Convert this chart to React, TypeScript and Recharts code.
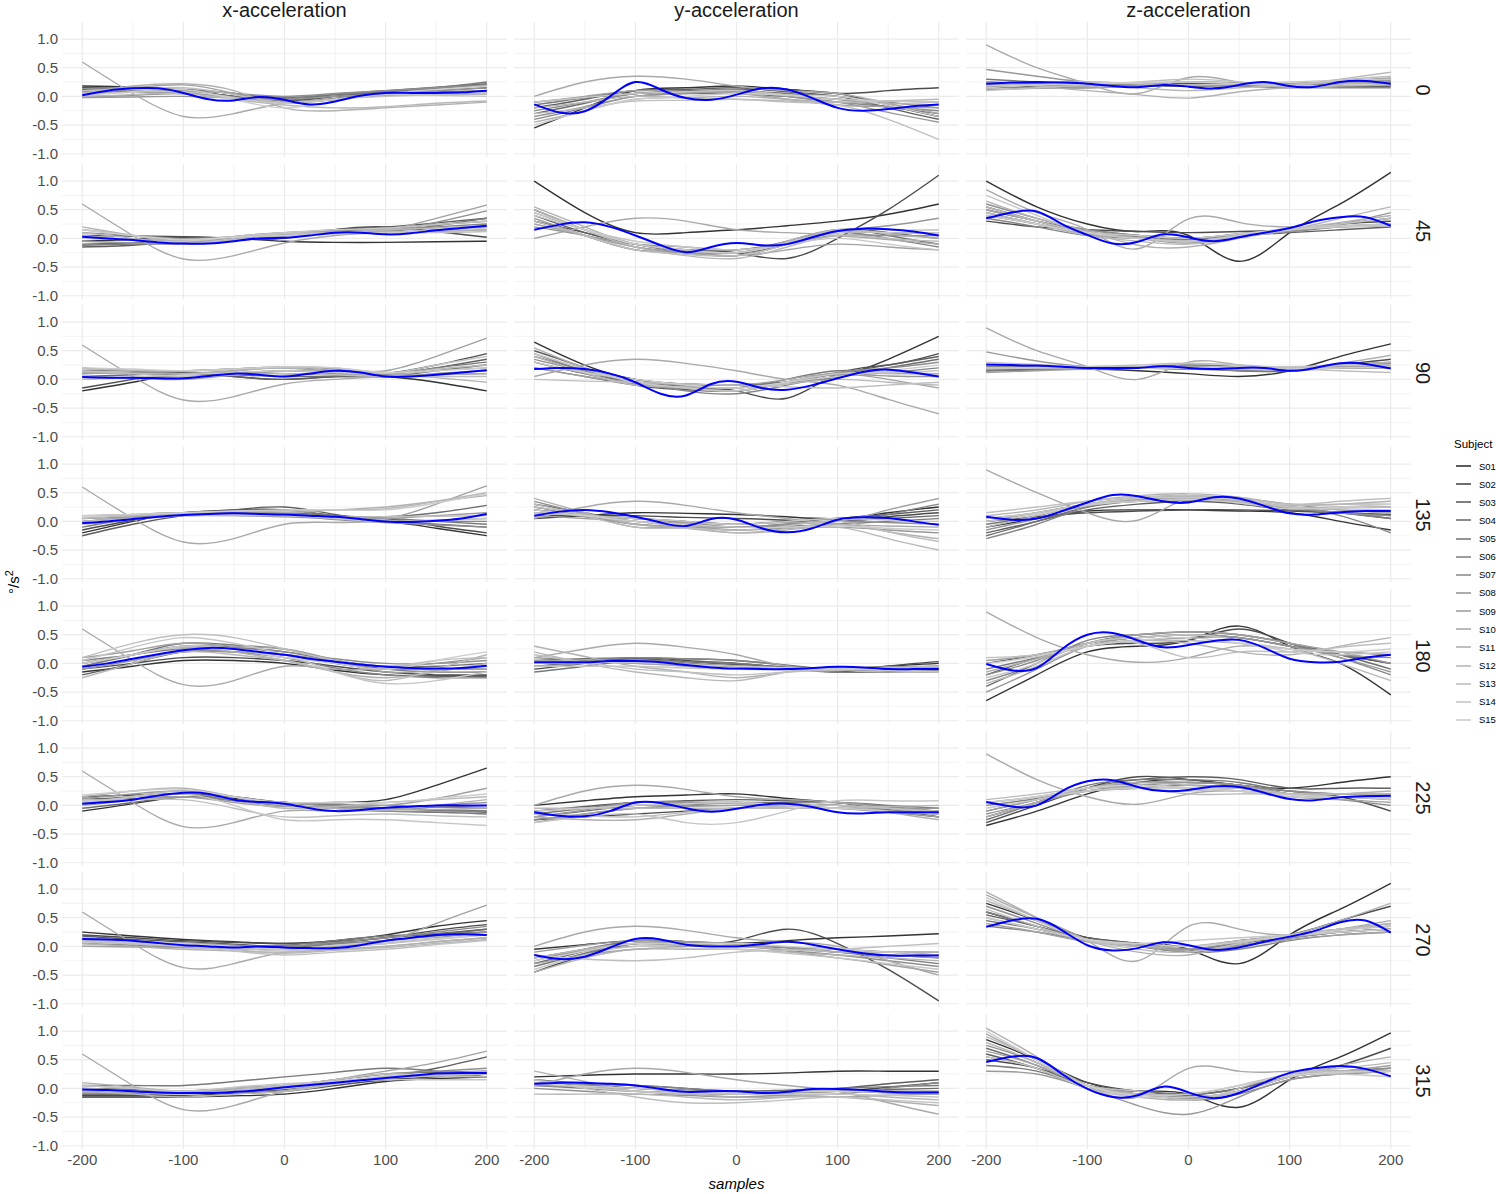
import { LineChart, Line, XAxis, YAxis, ReferenceLine } from "recharts"

const SUBJECTS = ["S01", "S02", "S03", "S04", "S05", "S06", "S07", "S08", "S09", "S10", "S11", "S12", "S13", "S14", "S15"]
const SUBJECT_COLORS = [
  "#333333", "#4C4C4C", "#5E5E5E", "#6D6D6D", "#797979", "#858585", "#8F8F8F", "#989898",
  "#A1A1A1", "#A9A9A9", "#B1B1B1", "#B8B8B8", "#BFBFBF", "#C6C6C6", "#CCCCCC",
]
const AXES = ["x-acceleration", "y-acceleration", "z-acceleration"]
const ANGLES = ["0", "45", "90", "135", "180", "225", "270", "315"]
const X_GREY = [-200, -150, -100, -50, 0, 50, 100, 150, 200]
const X_MEAN = [-200, -175, -150, -125, -100, -75, -50, -25, 0, 25, 50, 75, 100, 125, 150, 175, 200]
const X_TICKS = [-200, -100, 0, 100, 200]
const X_MINOR = [-150, -50, 50, 150]
const Y_TICKS = [-1, -0.5, 0, 0.5, 1]
const Y_MINOR = [-0.75, -0.25, 0.25, 0.75]

// ---- x-acceleration ----
const X0 = [
  [0.18, 0.16, 0.1, 0.0, -0.1, -0.05, 0.02, 0.04, 0.05],
  [0.15, 0.14, 0.12, 0.05, -0.05, 0.0, 0.05, 0.1, 0.15],
  [0.12, 0.1, 0.08, 0.0, -0.08, 0.0, 0.08, 0.14, 0.2],
  [0.1, 0.08, 0.05, 0.0, -0.05, 0.03, 0.1, 0.16, 0.22],
  [0.05, 0.08, 0.1, 0.05, -0.02, 0.03, 0.08, 0.15, 0.25],
  [0.0, 0.02, 0.05, -0.03, -0.1, -0.03, 0.05, 0.08, 0.1],
  [0.08, 0.1, 0.1, 0.05, 0.0, 0.05, 0.1, 0.15, 0.2],
  [-0.02, -0.01, 0.0, -0.03, -0.05, 0.0, 0.05, 0.1, 0.15],
  [0.1, 0.15, 0.2, 0.05, -0.12, -0.05, 0.02, 0.04, 0.05],
  [0.6, 0.05, -0.35, -0.3, -0.12, -0.05, 0.03, 0.06, 0.1],
  [0.05, 0.18, 0.22, 0.1, -0.2, -0.25, -0.2, -0.15, -0.1],
  [0.0, 0.03, 0.05, -0.05, -0.15, -0.2, -0.18, -0.12, -0.08],
  [0.1, 0.13, 0.15, 0.03, -0.1, -0.05, 0.0, 0.03, 0.05],
  [0.05, 0.07, 0.08, -0.02, -0.12, -0.05, 0.03, 0.02, 0.0],
  [0.02, 0.08, 0.12, -0.05, -0.2, -0.08, 0.05, 0.12, 0.18],
]
const X0_MEAN = [0.02, 0.1, 0.14, 0.14, 0.06, -0.05, -0.07, -0.01, -0.06, -0.14, -0.09, 0.01, 0.06, 0.06, 0.06, 0.07, 0.1]

const X45 = [
  [-0.05, -0.02, 0.02, 0.0, -0.05, -0.07, -0.07, -0.06, -0.05],
  [0.05, 0.04, 0.03, 0.0, 0.0, 0.15, 0.2, 0.12, 0.02],
  [-0.15, -0.12, -0.05, 0.0, 0.05, 0.15, 0.2, 0.27, 0.35],
  [-0.1, -0.08, -0.05, 0.02, 0.08, 0.15, 0.18, 0.24, 0.3],
  [-0.12, -0.1, -0.08, -0.02, 0.05, 0.1, 0.12, 0.22, 0.35],
  [0.0, -0.02, -0.05, 0.02, 0.1, 0.13, 0.15, 0.2, 0.25],
  [0.1, 0.05, 0.0, 0.03, 0.08, 0.1, 0.12, 0.28, 0.48],
  [-0.05, -0.08, -0.1, -0.03, 0.05, 0.08, 0.1, 0.15, 0.2],
  [0.15, 0.05, -0.05, 0.03, 0.1, 0.12, 0.15, 0.35, 0.58],
  [0.6, 0.05, -0.36, -0.3, -0.08, 0.05, 0.1, 0.12, 0.15],
  [0.2, 0.05, -0.05, 0.03, 0.1, 0.1, 0.12, 0.13, 0.15],
  [0.1, 0.0, -0.08, -0.02, 0.05, 0.1, 0.15, 0.18, 0.22],
  [0.05, -0.03, -0.1, 0.0, 0.08, 0.1, 0.1, 0.1, 0.12],
  [0.0, -0.03, -0.05, 0.03, 0.1, 0.15, 0.18, 0.24, 0.3],
  [0.15, 0.05, -0.02, 0.02, 0.05, 0.08, 0.1, 0.14, 0.18],
]
const X45_MEAN = [0.03, 0.0, -0.03, -0.07, -0.09, -0.09, -0.05, 0.0, 0.01, 0.05, 0.1, 0.1, 0.07, 0.09, 0.14, 0.18, 0.22]

const X90 = [
  [-0.2, -0.05, 0.1, 0.12, 0.1, 0.08, 0.05, -0.05, -0.2],
  [-0.15, 0.0, 0.1, 0.05, 0.0, 0.05, 0.1, 0.25, 0.45],
  [0.1, 0.12, 0.12, 0.05, 0.0, 0.05, 0.08, 0.2, 0.35],
  [0.05, 0.08, 0.1, 0.08, 0.05, 0.05, 0.05, 0.15, 0.25],
  [0.15, 0.15, 0.15, 0.18, 0.2, 0.15, 0.1, 0.2, 0.3],
  [0.0, 0.03, 0.05, 0.1, 0.15, 0.1, 0.05, 0.1, 0.15],
  [0.2, 0.15, 0.1, 0.15, 0.2, 0.12, 0.05, 0.08, 0.1],
  [0.1, 0.12, 0.15, 0.18, 0.22, 0.18, 0.1, 0.15, 0.2],
  [0.05, 0.02, 0.0, 0.08, 0.15, 0.15, 0.15, 0.4, 0.72],
  [0.6, 0.05, -0.36, -0.3, -0.08, 0.0, 0.05, 0.08, 0.1],
  [0.12, 0.1, 0.1, 0.15, 0.2, 0.15, 0.1, 0.03, -0.05],
  [0.18, 0.16, 0.15, 0.18, 0.2, 0.2, 0.12, 0.18, 0.25],
  [0.15, 0.1, 0.05, 0.08, 0.1, 0.08, 0.05, 0.05, 0.05],
  [0.0, 0.04, 0.08, 0.12, 0.15, 0.12, 0.1, 0.25, 0.4],
  [0.2, 0.18, 0.15, 0.18, 0.22, 0.2, 0.12, 0.15, 0.2],
]
const X90_MEAN = [0.04, 0.03, 0.03, 0.02, 0.02, 0.06, 0.1, 0.08, 0.05, 0.1, 0.15, 0.12, 0.05, 0.05, 0.08, 0.12, 0.16]

const X135 = [
  [-0.2, 0.0, 0.15, 0.15, 0.12, 0.05, 0.0, -0.12, -0.25],
  [-0.15, 0.02, 0.15, 0.2, 0.2, 0.1, 0.05, -0.08, -0.2],
  [-0.25, -0.05, 0.1, 0.2, 0.25, 0.12, 0.0, -0.05, -0.1],
  [0.0, 0.06, 0.12, 0.14, 0.15, 0.1, 0.08, 0.15, 0.28],
  [-0.1, 0.05, 0.15, 0.18, 0.2, 0.1, 0.05, 0.0, -0.05],
  [0.05, 0.08, 0.1, 0.12, 0.15, 0.05, 0.0, 0.0, 0.0],
  [0.1, 0.12, 0.15, 0.12, 0.1, 0.03, -0.02, -0.06, -0.1],
  [-0.05, 0.03, 0.1, 0.1, 0.08, 0.05, 0.05, 0.1, 0.15],
  [0.0, 0.08, 0.15, 0.14, 0.12, 0.08, 0.05, 0.3, 0.62],
  [0.6, 0.05, -0.36, -0.3, -0.05, -0.02, 0.0, 0.02, 0.05],
  [0.1, 0.1, 0.12, 0.14, 0.15, 0.2, 0.25, 0.35, 0.45],
  [0.05, 0.1, 0.15, 0.17, 0.18, 0.2, 0.22, 0.35, 0.5],
  [0.0, 0.05, 0.1, 0.1, 0.1, 0.08, 0.08, 0.09, 0.1],
  [-0.05, 0.04, 0.12, 0.12, 0.1, 0.05, 0.0, 0.02, 0.05],
  [0.1, 0.12, 0.15, 0.18, 0.2, 0.2, 0.2, 0.32, 0.48],
]
const X135_MEAN = [-0.03, 0.0, 0.04, 0.08, 0.11, 0.13, 0.14, 0.13, 0.12, 0.1, 0.08, 0.04, 0.0, -0.01, 0.01, 0.05, 0.13]

const X180 = [
  [-0.15, -0.05, 0.05, 0.05, 0.0, -0.12, -0.2, -0.22, -0.22],
  [-0.1, 0.0, 0.1, 0.1, 0.05, -0.05, -0.15, -0.2, -0.2],
  [-0.2, 0.0, 0.2, 0.2, 0.15, 0.0, -0.1, -0.1, -0.1],
  [0.0, 0.15, 0.3, 0.28, 0.2, 0.05, -0.05, -0.05, 0.0],
  [-0.05, 0.15, 0.35, 0.32, 0.25, 0.05, -0.1, -0.15, -0.15],
  [0.05, 0.15, 0.25, 0.2, 0.1, -0.08, -0.2, -0.25, -0.25],
  [0.0, 0.15, 0.3, 0.27, 0.2, 0.08, 0.0, 0.0, 0.05],
  [-0.1, 0.05, 0.2, 0.2, 0.15, 0.05, -0.05, 0.0, 0.1],
  [0.1, 0.22, 0.35, 0.3, 0.25, 0.05, -0.15, -0.12, -0.05],
  [0.6, 0.05, -0.37, -0.3, -0.05, -0.1, -0.1, -0.1, -0.1],
  [0.0, 0.15, 0.28, 0.2, 0.05, -0.15, -0.25, -0.15, 0.0],
  [-0.25, 0.0, 0.2, 0.15, 0.05, -0.15, -0.3, -0.1, 0.15],
  [0.1, 0.35, 0.5, 0.45, 0.25, 0.05, -0.05, 0.05, 0.1],
  [0.05, 0.28, 0.45, 0.35, 0.15, -0.15, -0.35, -0.3, -0.15],
  [0.0, 0.15, 0.3, 0.25, 0.1, 0.0, -0.1, 0.05, 0.2],
]
const X180_MEAN = [-0.06, 0.0, 0.08, 0.16, 0.23, 0.27, 0.25, 0.2, 0.15, 0.08, 0.03, -0.02, -0.06, -0.08, -0.09, -0.08, -0.04]

const X225 = [
  [-0.1, 0.03, 0.15, 0.12, 0.05, 0.05, 0.1, 0.35, 0.65],
  [0.15, 0.18, 0.2, 0.15, 0.05, 0.0, -0.05, -0.08, -0.1],
  [0.1, 0.15, 0.2, 0.1, 0.0, -0.03, -0.05, -0.08, -0.12],
  [-0.05, 0.05, 0.15, 0.1, 0.05, 0.0, -0.05, -0.03, 0.0],
  [0.1, 0.12, 0.15, 0.08, 0.0, -0.05, -0.1, -0.12, -0.15],
  [0.05, 0.1, 0.15, 0.1, 0.05, 0.02, 0.0, -0.03, -0.05],
  [0.0, 0.1, 0.2, 0.1, 0.0, -0.05, -0.1, -0.1, -0.1],
  [0.12, 0.2, 0.25, 0.15, 0.05, -0.02, -0.05, 0.0, 0.05],
  [0.05, 0.1, 0.15, 0.05, -0.02, -0.02, 0.0, 0.12, 0.3],
  [0.6, 0.05, -0.37, -0.3, -0.1, -0.1, -0.08, -0.07, -0.05],
  [0.15, 0.25, 0.3, 0.15, 0.0, -0.05, -0.08, 0.0, 0.1],
  [0.0, 0.15, 0.25, 0.1, -0.05, -0.02, 0.05, 0.1, 0.15],
  [0.1, 0.1, 0.1, -0.05, -0.2, -0.18, -0.15, -0.18, -0.2],
  [0.05, 0.15, 0.2, 0.0, -0.25, -0.25, -0.25, -0.3, -0.35],
  [0.18, 0.25, 0.28, 0.15, 0.05, 0.05, 0.05, 0.12, 0.2],
]
const X225_MEAN = [0.03, 0.06, 0.1, 0.17, 0.22, 0.2, 0.1, 0.06, 0.03, -0.05, -0.1, -0.08, -0.04, -0.02, 0.0, 0.0, 0.0]

const X270 = [
  [0.25, 0.18, 0.12, 0.08, 0.05, 0.1, 0.2, 0.35, 0.45],
  [0.2, 0.15, 0.1, 0.07, 0.05, 0.08, 0.15, 0.28, 0.38],
  [0.18, 0.12, 0.08, 0.04, 0.0, 0.06, 0.15, 0.22, 0.3],
  [0.1, 0.08, 0.05, 0.02, -0.02, 0.04, 0.1, 0.2, 0.3],
  [0.0, 0.0, 0.0, 0.01, 0.02, 0.1, 0.18, 0.22, 0.25],
  [0.05, 0.02, -0.02, -0.01, 0.0, 0.05, 0.1, 0.18, 0.25],
  [0.15, 0.1, 0.05, 0.02, 0.0, 0.07, 0.15, 0.25, 0.35],
  [0.1, 0.05, 0.0, -0.03, -0.05, 0.0, 0.05, 0.15, 0.25],
  [0.0, -0.01, -0.02, -0.04, -0.05, 0.02, 0.1, 0.4, 0.72],
  [0.6, 0.05, -0.37, -0.3, -0.1, -0.05, 0.0, 0.08, 0.15],
  [0.05, 0.0, -0.05, -0.08, -0.1, -0.05, 0.0, 0.08, 0.15],
  [0.12, 0.08, 0.03, -0.05, -0.12, -0.07, -0.02, 0.05, 0.12],
  [0.08, 0.04, 0.0, -0.08, -0.15, -0.1, -0.05, 0.03, 0.1],
  [0.1, 0.06, 0.02, -0.03, -0.08, -0.02, 0.05, 0.12, 0.2],
  [0.15, 0.1, 0.05, 0.0, -0.05, 0.02, 0.08, 0.14, 0.2],
]
const X270_MEAN = [0.13, 0.12, 0.1, 0.06, 0.02, 0.0, -0.02, 0.0, -0.02, -0.03, -0.03, 0.02, 0.1, 0.15, 0.2, 0.21, 0.2]

const X315 = [
  [-0.15, -0.15, -0.15, -0.13, -0.1, 0.0, 0.12, 0.17, 0.2],
  [-0.12, -0.12, -0.12, -0.09, -0.05, 0.05, 0.15, 0.2, 0.25],
  [-0.1, -0.1, -0.1, -0.06, -0.02, 0.1, 0.2, 0.35, 0.55],
  [0.0, -0.02, -0.05, 0.0, 0.05, 0.15, 0.25, 0.28, 0.3],
  [0.05, 0.05, 0.05, 0.12, 0.2, 0.28, 0.35, 0.3, 0.2],
  [-0.05, -0.08, -0.1, -0.05, 0.0, 0.1, 0.2, 0.23, 0.25],
  [-0.08, -0.07, -0.05, 0.0, 0.05, 0.15, 0.25, 0.3, 0.35],
  [0.0, -0.04, -0.08, -0.03, 0.02, 0.1, 0.2, 0.25, 0.3],
  [0.05, 0.0, -0.05, -0.03, 0.0, 0.15, 0.3, 0.45, 0.65],
  [0.6, 0.05, -0.37, -0.3, -0.05, 0.08, 0.2, 0.23, 0.25],
  [0.1, 0.02, -0.05, 0.0, 0.05, 0.12, 0.2, 0.25, 0.3],
  [-0.05, -0.1, -0.15, -0.1, -0.05, 0.07, 0.18, 0.22, 0.25],
  [0.0, -0.05, -0.1, -0.03, 0.05, 0.15, 0.25, 0.22, 0.2],
  [0.05, 0.0, -0.05, 0.02, 0.08, 0.12, 0.15, 0.15, 0.15],
  [-0.02, -0.06, -0.1, -0.05, 0.0, 0.1, 0.22, 0.25, 0.28],
]
const X315_MEAN = [-0.02, -0.03, -0.05, -0.07, -0.08, -0.08, -0.06, -0.03, 0.02, 0.06, 0.1, 0.14, 0.18, 0.22, 0.26, 0.27, 0.27]

// ---- y-acceleration ----
const Y0 = [
  [-0.55, -0.2, 0.1, 0.15, 0.18, 0.12, 0.05, -0.15, -0.35],
  [-0.1, -0.02, 0.05, 0.1, 0.12, 0.12, 0.05, 0.1, 0.15],
  [-0.2, -0.05, 0.1, 0.12, 0.15, 0.08, 0.0, -0.2, -0.4],
  [-0.3, -0.12, 0.05, 0.05, 0.05, 0.0, -0.05, -0.18, -0.3],
  [-0.15, -0.02, 0.1, 0.1, 0.1, 0.05, 0.0, -0.1, -0.2],
  [-0.4, -0.2, 0.0, 0.06, 0.12, 0.0, -0.1, -0.18, -0.25],
  [-0.25, -0.1, 0.05, 0.07, 0.08, 0.02, -0.05, -0.08, -0.1],
  [-0.35, -0.18, 0.0, 0.05, 0.1, 0.0, -0.1, -0.28, -0.45],
  [-0.1, 0.0, 0.1, 0.08, 0.05, -0.05, -0.15, -0.18, -0.2],
  [0.0, 0.25, 0.35, 0.3, 0.18, 0.1, 0.05, -0.12, -0.3],
  [-0.45, -0.25, -0.05, -0.02, 0.0, -0.05, -0.1, -0.12, -0.15],
  [-0.2, -0.1, 0.0, -0.03, -0.05, -0.08, -0.1, -0.08, -0.05],
  [-0.3, -0.2, -0.08, -0.07, -0.05, -0.1, -0.15, -0.4, -0.75],
  [-0.1, -0.02, 0.05, 0.08, 0.1, 0.02, -0.05, -0.08, -0.1],
  [-0.5, -0.25, -0.05, 0.0, 0.05, 0.02, 0.0, -0.15, -0.35],
]
const Y0_MEAN = [-0.14, -0.28, -0.26, 0.0, 0.25, 0.12, -0.03, -0.06, 0.03, 0.14, 0.12, -0.03, -0.2, -0.25, -0.22, -0.17, -0.14]

const Y45 = [
  [1.0, 0.45, 0.1, 0.1, 0.15, 0.22, 0.3, 0.42, 0.6],
  [0.3, 0.1, -0.1, -0.2, -0.25, -0.35, 0.0, 0.5, 1.1],
  [0.4, 0.1, -0.1, -0.2, -0.25, -0.1, 0.15, 0.1, 0.0],
  [0.5, 0.15, -0.15, -0.25, -0.3, -0.1, 0.1, 0.1, 0.1],
  [0.3, 0.05, -0.2, -0.22, -0.2, -0.05, 0.15, 0.05, -0.1],
  [0.45, 0.15, -0.1, -0.25, -0.3, -0.1, 0.1, 0.0, -0.15],
  [0.2, 0.05, -0.1, -0.15, -0.2, -0.08, 0.05, 0.05, 0.05],
  [0.35, 0.05, -0.2, -0.25, -0.25, -0.08, 0.12, 0.22, 0.35],
  [0.25, 0.05, -0.15, -0.25, -0.3, -0.2, -0.1, -0.15, -0.2],
  [0.0, 0.2, 0.35, 0.3, 0.15, 0.1, 0.05, -0.02, -0.1],
  [0.55, 0.2, -0.1, -0.2, -0.25, -0.05, 0.15, 0.08, 0.0],
  [0.5, 0.15, -0.15, -0.3, -0.35, -0.15, 0.05, 0.0, -0.05],
  [0.3, 0.05, -0.2, -0.28, -0.3, -0.1, 0.15, 0.15, 0.15],
  [0.4, 0.15, -0.05, -0.15, -0.2, -0.1, 0.0, -0.1, -0.2],
  [0.45, 0.15, -0.1, -0.2, -0.25, -0.08, 0.1, 0.1, 0.1],
]
const Y45_MEAN = [0.15, 0.24, 0.28, 0.2, 0.05, -0.12, -0.24, -0.15, -0.08, -0.12, -0.1, 0.02, 0.13, 0.17, 0.16, 0.12, 0.05]

const Y90 = [
  [0.65, 0.25, 0.0, -0.08, -0.1, -0.05, 0.05, 0.35, 0.75],
  [0.3, 0.1, -0.05, -0.15, -0.2, -0.33, 0.1, 0.25, 0.45],
  [0.5, 0.2, -0.1, -0.18, -0.2, -0.05, 0.1, 0.25, 0.4],
  [0.4, 0.15, -0.05, -0.12, -0.15, -0.05, 0.05, 0.2, 0.35],
  [0.2, 0.05, -0.1, -0.15, -0.15, 0.0, 0.15, 0.12, 0.1],
  [0.45, 0.15, -0.05, -0.2, -0.25, -0.1, 0.05, 0.12, 0.2],
  [0.35, 0.15, 0.0, -0.12, -0.2, -0.05, 0.12, 0.2, 0.3],
  [0.3, 0.1, -0.08, -0.15, -0.2, -0.05, 0.08, 0.06, 0.05],
  [0.2, 0.05, -0.05, -0.08, -0.1, 0.0, 0.1, 0.0, -0.15],
  [0.05, 0.25, 0.35, 0.28, 0.15, 0.0, -0.1, -0.35, -0.6],
  [0.55, 0.2, -0.05, -0.15, -0.2, -0.05, 0.1, 0.1, 0.1],
  [0.4, 0.12, -0.1, -0.13, -0.15, -0.08, 0.0, -0.05, -0.1],
  [0.0, -0.03, -0.05, -0.08, -0.1, -0.13, -0.15, -0.1, -0.05],
  [0.45, 0.18, -0.05, -0.15, -0.2, -0.05, 0.1, 0.12, 0.15],
  [0.3, 0.12, 0.0, -0.1, -0.15, -0.05, 0.05, 0.15, 0.25],
]
const Y90_MEAN = [0.18, 0.2, 0.18, 0.1, -0.05, -0.25, -0.28, -0.08, -0.04, -0.15, -0.18, -0.1, 0.02, 0.13, 0.17, 0.12, 0.05]

const Y135 = [
  [0.05, 0.1, 0.15, 0.14, 0.12, 0.08, 0.05, 0.15, 0.25],
  [0.1, 0.1, 0.1, 0.07, 0.05, 0.02, 0.0, 0.08, 0.15],
  [0.2, 0.12, 0.05, 0.0, -0.05, 0.0, 0.05, 0.12, 0.2],
  [0.3, 0.15, 0.0, -0.05, -0.1, -0.05, 0.0, 0.05, 0.1],
  [0.25, 0.1, -0.05, -0.1, -0.15, -0.1, -0.05, 0.0, 0.05],
  [0.15, 0.1, 0.05, -0.02, -0.1, -0.08, -0.05, 0.12, 0.3],
  [0.35, 0.12, -0.1, -0.1, -0.1, -0.05, 0.0, -0.02, -0.05],
  [0.2, 0.08, -0.05, -0.1, -0.15, -0.12, -0.1, -0.15, -0.2],
  [0.1, 0.05, 0.0, -0.02, -0.05, -0.02, 0.0, 0.2, 0.4],
  [0.05, 0.25, 0.35, 0.28, 0.15, 0.05, -0.05, -0.08, -0.1],
  [0.4, 0.15, -0.05, -0.12, -0.2, -0.12, -0.05, -0.18, -0.3],
  [0.25, 0.12, 0.0, -0.1, -0.2, -0.15, -0.1, -0.3, -0.5],
  [0.3, 0.1, -0.1, -0.12, -0.15, -0.08, 0.0, -0.18, -0.35],
  [0.15, 0.1, 0.05, 0.0, -0.05, 0.0, 0.05, 0.02, 0.0],
  [0.2, 0.1, 0.0, -0.05, -0.1, -0.1, -0.08, -0.12, -0.15],
]
const Y135_MEAN = [0.1, 0.17, 0.2, 0.16, 0.08, -0.02, -0.08, 0.04, 0.03, -0.12, -0.19, -0.12, 0.03, 0.07, 0.06, 0.0, -0.06]

const Y180 = [
  [0.0, 0.03, 0.05, 0.0, -0.05, -0.08, -0.1, -0.05, 0.0],
  [-0.1, 0.0, 0.1, 0.05, 0.0, -0.08, -0.15, -0.05, 0.03],
  [-0.05, 0.02, 0.08, 0.03, -0.02, -0.06, -0.1, -0.08, -0.05],
  [0.05, 0.08, 0.1, 0.08, 0.05, -0.03, -0.1, -0.1, -0.1],
  [-0.15, -0.05, 0.05, 0.03, 0.0, -0.08, -0.15, -0.15, -0.15],
  [0.0, 0.05, 0.1, 0.08, 0.05, -0.04, -0.12, -0.1, -0.08],
  [0.1, 0.05, 0.0, -0.03, -0.05, -0.08, -0.1, -0.11, -0.12],
  [-0.05, 0.0, 0.05, 0.0, -0.05, -0.07, -0.08, -0.06, -0.05],
  [0.05, 0.03, 0.0, -0.05, -0.1, -0.11, -0.12, -0.11, -0.1],
  [0.1, 0.25, 0.35, 0.28, 0.15, -0.05, -0.1, -0.1, -0.1],
  [0.3, 0.12, -0.05, -0.15, -0.25, -0.15, -0.1, -0.12, -0.15],
  [0.2, 0.0, -0.15, -0.25, -0.3, -0.15, -0.08, -0.09, -0.1],
  [0.15, 0.02, -0.1, -0.15, -0.2, -0.15, -0.12, -0.08, -0.05],
  [-0.05, -0.05, -0.05, -0.08, -0.1, -0.09, -0.08, -0.12, -0.15],
  [0.0, 0.01, 0.02, -0.02, -0.05, -0.08, -0.1, -0.1, -0.1],
]
const Y180_MEAN = [0.02, 0.02, 0.02, 0.04, 0.04, 0.02, -0.03, -0.07, -0.09, -0.1, -0.1, -0.08, -0.06, -0.07, -0.1, -0.1, -0.1]

const Y225 = [
  [0.0, 0.08, 0.15, 0.18, 0.2, 0.12, 0.05, -0.08, -0.2],
  [-0.25, -0.2, -0.15, -0.1, -0.05, -0.02, 0.0, -0.08, -0.15],
  [-0.1, -0.02, 0.05, 0.08, 0.1, 0.08, 0.05, -0.03, -0.1],
  [-0.2, -0.1, 0.0, 0.03, 0.05, 0.05, 0.05, 0.0, -0.05],
  [-0.15, -0.05, 0.05, 0.05, 0.05, 0.0, -0.05, -0.12, -0.2],
  [-0.25, -0.15, -0.05, 0.0, 0.05, 0.02, 0.0, -0.08, -0.15],
  [-0.1, -0.05, 0.0, 0.0, 0.0, 0.03, 0.05, -0.02, -0.1],
  [-0.2, -0.08, 0.05, 0.05, 0.05, 0.0, -0.05, -0.05, -0.05],
  [-0.3, -0.15, -0.05, -0.02, 0.0, 0.0, 0.0, -0.1, -0.2],
  [0.0, 0.25, 0.35, 0.28, 0.15, 0.1, 0.05, -0.05, -0.15],
  [-0.2, -0.25, -0.25, -0.15, -0.05, -0.02, 0.0, -0.12, -0.25],
  [-0.05, -0.05, -0.05, -0.05, -0.05, -0.05, -0.05, -0.02, 0.0],
  [-0.15, -0.18, -0.2, -0.12, -0.05, -0.02, 0.0, -0.05, -0.1],
  [-0.3, -0.2, -0.15, -0.3, -0.3, -0.1, 0.08, 0.08, 0.08],
  [-0.1, -0.05, 0.0, 0.03, 0.05, 0.0, -0.05, -0.1, -0.15],
]
const Y225_MEAN = [-0.12, -0.18, -0.19, -0.1, 0.05, 0.04, -0.05, -0.11, -0.06, 0.01, 0.03, -0.03, -0.12, -0.14, -0.12, -0.12, -0.12]

const Y270 = [
  [-0.05, 0.03, 0.1, 0.08, 0.05, 0.1, 0.15, 0.18, 0.22],
  [-0.45, -0.15, 0.05, 0.05, 0.1, 0.3, 0.05, -0.4, -0.95],
  [-0.3, -0.08, 0.1, 0.08, 0.05, -0.02, -0.1, -0.15, -0.2],
  [-0.2, -0.05, 0.05, 0.02, 0.0, -0.02, -0.05, -0.1, -0.15],
  [-0.35, -0.12, 0.05, 0.05, 0.05, -0.02, -0.1, -0.2, -0.3],
  [-0.25, -0.05, 0.1, 0.08, 0.05, -0.02, -0.1, -0.1, -0.1],
  [-0.2, -0.08, 0.0, 0.0, 0.0, -0.07, -0.15, -0.25, -0.35],
  [-0.1, 0.02, 0.1, 0.08, 0.05, -0.02, -0.1, -0.15, -0.2],
  [-0.3, -0.15, -0.05, 0.0, 0.05, -0.08, -0.2, -0.32, -0.45],
  [0.0, 0.25, 0.35, 0.28, 0.15, 0.08, 0.0, -0.25, -0.5],
  [-0.45, -0.2, -0.05, -0.05, -0.05, -0.1, -0.15, -0.2, -0.25],
  [-0.2, -0.05, 0.05, 0.02, 0.0, -0.05, -0.1, -0.1, -0.1],
  [-0.15, -0.22, -0.25, -0.2, -0.1, -0.07, -0.05, 0.0, 0.05],
  [-0.4, -0.15, 0.0, -0.03, -0.05, -0.12, -0.2, -0.3, -0.4],
  [-0.25, -0.08, 0.05, 0.05, 0.05, 0.0, -0.05, -0.1, -0.15],
]
const Y270_MEAN = [-0.15, -0.22, -0.18, -0.02, 0.13, 0.12, 0.03, 0.0, 0.0, 0.04, 0.08, 0.03, -0.05, -0.12, -0.16, -0.16, -0.16]

const Y315 = [
  [0.2, 0.23, 0.25, 0.25, 0.25, 0.27, 0.3, 0.3, 0.3],
  [0.1, 0.05, 0.0, -0.03, -0.05, -0.05, -0.05, 0.02, 0.1],
  [0.1, 0.08, 0.05, 0.0, -0.05, -0.03, 0.0, 0.08, 0.15],
  [0.15, 0.08, 0.0, -0.05, -0.1, -0.08, -0.05, -0.02, 0.0],
  [0.05, 0.0, -0.05, -0.08, -0.1, -0.05, 0.0, 0.03, 0.05],
  [0.1, 0.08, 0.05, 0.0, -0.05, -0.05, -0.05, -0.05, -0.05],
  [0.0, -0.05, -0.1, -0.12, -0.15, -0.12, -0.1, 0.0, 0.1],
  [0.05, 0.03, 0.0, -0.05, -0.1, -0.08, -0.05, -0.08, -0.1],
  [0.15, 0.05, -0.05, -0.08, -0.1, -0.12, -0.15, -0.12, -0.1],
  [0.05, 0.25, 0.35, 0.28, 0.15, 0.05, -0.05, -0.25, -0.45],
  [0.3, 0.12, -0.05, -0.1, -0.15, -0.15, -0.15, -0.22, -0.3],
  [-0.1, -0.1, -0.1, -0.15, -0.2, -0.15, -0.1, -0.15, -0.2],
  [0.15, 0.0, -0.15, -0.25, -0.25, -0.2, -0.15, -0.2, -0.25],
  [0.1, 0.02, -0.05, -0.08, -0.1, -0.1, -0.1, -0.12, -0.15],
  [0.08, 0.04, 0.0, -0.04, -0.08, -0.06, -0.05, -0.06, -0.08],
]
const Y315_MEAN = [0.08, 0.1, 0.1, 0.08, 0.05, -0.01, -0.06, -0.05, -0.05, -0.08, -0.06, -0.01, -0.01, -0.03, -0.06, -0.07, -0.07]

// ---- z-acceleration ----
const Z0 = [
  [0.2, 0.21, 0.22, 0.21, 0.2, 0.19, 0.18, 0.18, 0.18],
  [0.15, 0.18, 0.2, 0.21, 0.22, 0.21, 0.2, 0.2, 0.2],
  [0.25, 0.22, 0.2, 0.19, 0.18, 0.2, 0.22, 0.24, 0.25],
  [0.18, 0.16, 0.15, 0.18, 0.2, 0.2, 0.2, 0.21, 0.22],
  [0.3, 0.25, 0.2, 0.19, 0.18, 0.19, 0.2, 0.25, 0.3],
  [0.22, 0.24, 0.25, 0.22, 0.2, 0.18, 0.15, 0.15, 0.15],
  [0.2, 0.19, 0.18, 0.22, 0.25, 0.24, 0.22, 0.25, 0.28],
  [0.47, 0.35, 0.25, 0.22, 0.2, 0.2, 0.2, 0.26, 0.32],
  [0.12, 0.14, 0.15, 0.18, 0.2, 0.21, 0.22, 0.24, 0.25],
  [0.9, 0.5, 0.22, 0.05, 0.33, 0.25, 0.2, 0.25, 0.3],
  [0.25, 0.18, 0.1, 0.03, -0.03, 0.08, 0.15, 0.18, 0.2],
  [0.2, 0.2, 0.2, 0.15, 0.1, 0.15, 0.2, 0.3, 0.42],
  [0.1, 0.15, 0.2, 0.25, 0.3, 0.25, 0.2, 0.28, 0.35],
  [0.15, 0.2, 0.25, 0.22, 0.2, 0.22, 0.25, 0.28, 0.3],
  [0.18, 0.2, 0.22, 0.24, 0.25, 0.22, 0.18, 0.2, 0.22],
]
const Z0_MEAN = [0.22, 0.24, 0.25, 0.24, 0.22, 0.18, 0.16, 0.2, 0.17, 0.14, 0.2, 0.25, 0.18, 0.17, 0.25, 0.27, 0.22]

const Z45 = [
  [1.0, 0.55, 0.25, 0.12, 0.05, -0.4, 0.1, 0.6, 1.15],
  [0.3, 0.2, 0.15, 0.12, 0.1, 0.12, 0.15, 0.25, 0.3],
  [0.55, 0.3, 0.1, 0.05, 0.0, 0.05, 0.1, 0.15, 0.2],
  [0.5, 0.3, 0.15, 0.05, 0.0, 0.08, 0.15, 0.25, 0.35],
  [0.4, 0.25, 0.1, 0.03, -0.02, 0.05, 0.12, 0.2, 0.25],
  [0.35, 0.2, 0.05, 0.0, -0.05, 0.05, 0.15, 0.2, 0.25],
  [0.6, 0.35, 0.15, 0.05, 0.0, 0.07, 0.15, 0.2, 0.22],
  [0.45, 0.25, 0.08, 0.0, -0.05, 0.05, 0.12, 0.25, 0.45],
  [0.5, 0.3, 0.12, 0.0, -0.08, 0.05, 0.15, 0.2, 0.25],
  [0.85, 0.45, 0.15, -0.18, 0.34, 0.28, 0.2, 0.22, 0.25],
  [0.65, 0.35, 0.12, -0.12, -0.15, 0.0, 0.15, 0.28, 0.4],
  [0.45, 0.25, 0.05, -0.05, -0.1, 0.02, 0.15, 0.35, 0.55],
  [0.55, 0.3, 0.1, 0.0, -0.05, 0.05, 0.15, 0.25, 0.35],
  [0.75, 0.4, 0.1, 0.0, -0.05, 0.05, 0.18, 0.22, 0.25],
  [0.4, 0.25, 0.1, 0.05, 0.0, 0.08, 0.15, 0.2, 0.22],
]
const Z45_MEAN = [0.35, 0.45, 0.47, 0.25, 0.06, -0.09, -0.06, 0.07, 0.02, -0.05, 0.02, 0.1, 0.18, 0.3, 0.37, 0.37, 0.22]

const Z90 = [
  [0.18, 0.18, 0.18, 0.15, 0.1, 0.05, 0.15, 0.4, 0.62],
  [0.15, 0.17, 0.2, 0.2, 0.2, 0.15, 0.15, 0.25, 0.35],
  [0.2, 0.2, 0.2, 0.2, 0.2, 0.18, 0.18, 0.22, 0.25],
  [0.25, 0.24, 0.22, 0.2, 0.18, 0.18, 0.18, 0.2, 0.2],
  [0.15, 0.17, 0.2, 0.22, 0.25, 0.22, 0.2, 0.25, 0.3],
  [0.22, 0.22, 0.22, 0.2, 0.18, 0.15, 0.15, 0.2, 0.22],
  [0.2, 0.2, 0.2, 0.22, 0.22, 0.2, 0.2, 0.24, 0.28],
  [0.48, 0.32, 0.22, 0.2, 0.2, 0.2, 0.2, 0.22, 0.25],
  [0.12, 0.15, 0.18, 0.2, 0.22, 0.2, 0.2, 0.2, 0.2],
  [0.9, 0.5, 0.22, 0.0, 0.3, 0.25, 0.2, 0.2, 0.2],
  [0.2, 0.2, 0.22, 0.22, 0.2, 0.2, 0.2, 0.28, 0.42],
  [0.25, 0.24, 0.22, 0.2, 0.2, 0.2, 0.2, 0.25, 0.3],
  [0.18, 0.2, 0.22, 0.25, 0.28, 0.25, 0.2, 0.15, 0.12],
  [0.3, 0.26, 0.22, 0.21, 0.2, 0.22, 0.22, 0.24, 0.25],
  [0.2, 0.2, 0.2, 0.2, 0.2, 0.18, 0.18, 0.2, 0.22],
]
const Z90_MEAN = [0.26, 0.25, 0.24, 0.22, 0.2, 0.2, 0.2, 0.23, 0.2, 0.18, 0.2, 0.2, 0.15, 0.2, 0.28, 0.27, 0.19]

const Z135 = [
  [-0.1, 0.05, 0.18, 0.2, 0.2, 0.18, 0.15, 0.0, -0.15],
  [0.0, 0.08, 0.15, 0.18, 0.2, 0.2, 0.18, 0.15, 0.12],
  [-0.2, 0.0, 0.2, 0.3, 0.35, 0.3, 0.2, 0.15, 0.1],
  [-0.25, 0.0, 0.25, 0.35, 0.38, 0.32, 0.22, 0.15, 0.05],
  [-0.05, 0.1, 0.3, 0.4, 0.42, 0.35, 0.25, 0.15, 0.05],
  [-0.3, -0.05, 0.25, 0.4, 0.45, 0.38, 0.25, 0.1, -0.2],
  [0.05, 0.15, 0.3, 0.35, 0.38, 0.35, 0.25, 0.15, 0.1],
  [-0.15, 0.05, 0.28, 0.38, 0.42, 0.4, 0.3, 0.2, 0.15],
  [0.0, 0.15, 0.3, 0.38, 0.4, 0.35, 0.25, 0.25, 0.25],
  [0.9, 0.5, 0.15, 0.02, 0.4, 0.35, 0.25, 0.2, 0.15],
  [0.1, 0.2, 0.35, 0.45, 0.48, 0.42, 0.3, 0.3, 0.35],
  [-0.1, 0.1, 0.3, 0.35, 0.4, 0.35, 0.28, 0.3, 0.3],
  [0.15, 0.25, 0.35, 0.42, 0.45, 0.4, 0.3, 0.35, 0.4],
  [0.05, 0.15, 0.3, 0.4, 0.42, 0.38, 0.25, 0.22, 0.2],
  [0.0, 0.12, 0.28, 0.35, 0.38, 0.32, 0.22, 0.25, 0.3],
]
const Z135_MEAN = [0.08, 0.03, 0.05, 0.18, 0.33, 0.46, 0.44, 0.35, 0.33, 0.42, 0.4, 0.27, 0.14, 0.12, 0.16, 0.18, 0.18]

const Z180 = [
  [-0.65, -0.2, 0.2, 0.3, 0.4, 0.65, 0.3, 0.0, -0.55],
  [0.0, 0.15, 0.3, 0.35, 0.4, 0.6, 0.35, 0.15, 0.0],
  [-0.2, 0.1, 0.35, 0.45, 0.5, 0.45, 0.3, 0.15, 0.0],
  [-0.4, 0.0, 0.35, 0.5, 0.55, 0.5, 0.35, 0.15, -0.1],
  [-0.1, 0.1, 0.3, 0.4, 0.45, 0.45, 0.3, 0.2, 0.15],
  [-0.3, 0.0, 0.4, 0.5, 0.55, 0.5, 0.35, 0.1, -0.2],
  [-0.2, 0.05, 0.35, 0.45, 0.5, 0.45, 0.3, 0.15, 0.1],
  [-0.5, -0.1, 0.3, 0.45, 0.5, 0.45, 0.3, 0.1, -0.15],
  [0.05, 0.15, 0.35, 0.5, 0.55, 0.5, 0.35, 0.2, 0.0],
  [0.9, 0.45, 0.15, 0.02, 0.1, 0.3, 0.25, 0.2, 0.15],
  [-0.15, 0.08, 0.3, 0.4, 0.35, 0.2, 0.15, 0.3, 0.45],
  [-0.35, -0.05, 0.3, 0.4, 0.4, 0.35, 0.25, 0.0, -0.3],
  [0.1, 0.15, 0.3, 0.35, 0.1, 0.2, 0.2, 0.28, 0.35],
  [-0.25, 0.0, 0.35, 0.45, 0.5, 0.4, 0.2, 0.15, 0.2],
  [0.0, 0.12, 0.3, 0.4, 0.45, 0.35, 0.25, 0.2, 0.25],
]
const Z180_MEAN = [-0.01, -0.12, -0.08, 0.25, 0.5, 0.53, 0.4, 0.28, 0.32, 0.39, 0.41, 0.27, 0.08, 0.02, 0.03, 0.1, 0.15]

const Z225 = [
  [-0.35, -0.1, 0.2, 0.4, 0.45, 0.35, 0.3, 0.4, 0.5],
  [-0.3, 0.0, 0.3, 0.5, 0.45, 0.35, 0.25, 0.15, -0.1],
  [-0.2, 0.05, 0.3, 0.45, 0.5, 0.45, 0.3, 0.3, 0.3],
  [-0.1, 0.1, 0.3, 0.4, 0.4, 0.35, 0.2, 0.15, 0.1],
  [-0.25, 0.05, 0.35, 0.45, 0.45, 0.4, 0.25, 0.2, 0.15],
  [0.0, 0.12, 0.25, 0.3, 0.35, 0.3, 0.2, 0.1, 0.0],
  [-0.15, 0.05, 0.25, 0.35, 0.4, 0.35, 0.25, 0.2, 0.2],
  [0.05, 0.15, 0.3, 0.4, 0.4, 0.35, 0.2, 0.15, 0.15],
  [-0.1, 0.1, 0.3, 0.35, 0.3, 0.25, 0.15, 0.1, 0.05],
  [0.9, 0.45, 0.15, 0.02, 0.2, 0.25, 0.2, 0.2, 0.2],
  [-0.2, 0.05, 0.3, 0.4, 0.35, 0.3, 0.2, 0.2, 0.25],
  [0.1, 0.2, 0.3, 0.3, 0.2, 0.2, 0.2, 0.2, 0.2],
  [0.05, 0.15, 0.25, 0.3, 0.25, 0.3, 0.2, 0.15, 0.1],
  [-0.05, 0.1, 0.25, 0.3, 0.3, 0.25, 0.15, 0.15, 0.15],
  [0.05, 0.15, 0.3, 0.35, 0.3, 0.25, 0.18, 0.15, 0.12],
]
const Z225_MEAN = [0.06, -0.02, 0.0, 0.25, 0.42, 0.44, 0.32, 0.25, 0.27, 0.33, 0.32, 0.22, 0.11, 0.09, 0.14, 0.16, 0.17]

const Z270 = [
  [0.75, 0.45, 0.15, 0.05, -0.05, -0.3, 0.2, 0.65, 1.1],
  [0.6, 0.35, 0.15, 0.05, 0.0, 0.1, 0.2, 0.45, 0.7],
  [0.55, 0.35, 0.15, 0.05, -0.05, 0.05, 0.15, 0.25, 0.3],
  [0.45, 0.3, 0.12, 0.0, -0.1, 0.0, 0.15, 0.25, 0.3],
  [0.6, 0.35, 0.1, 0.0, -0.05, 0.05, 0.2, 0.3, 0.35],
  [0.35, 0.25, 0.1, 0.0, -0.1, -0.05, 0.1, 0.2, 0.25],
  [0.7, 0.4, 0.12, 0.0, -0.05, 0.08, 0.2, 0.3, 0.4],
  [0.5, 0.3, 0.1, 0.02, -0.05, 0.02, 0.15, 0.25, 0.3],
  [0.4, 0.25, 0.08, 0.0, -0.08, 0.0, 0.12, 0.2, 0.25],
  [0.9, 0.5, 0.1, -0.25, 0.35, 0.3, 0.2, 0.3, 0.45],
  [0.95, 0.5, 0.1, -0.1, -0.15, 0.05, 0.2, 0.45, 0.75],
  [0.8, 0.45, 0.12, 0.0, 0.0, 0.1, 0.2, 0.3, 0.4],
  [0.65, 0.35, 0.1, -0.05, -0.1, 0.05, 0.2, 0.3, 0.35],
  [0.85, 0.45, 0.12, 0.05, 0.1, 0.15, 0.2, 0.28, 0.35],
  [0.5, 0.3, 0.12, 0.05, 0.0, 0.08, 0.18, 0.25, 0.3],
]
const Z270_MEAN = [0.34, 0.45, 0.48, 0.28, 0.02, -0.07, -0.03, 0.07, 0.02, -0.06, -0.02, 0.08, 0.17, 0.27, 0.42, 0.45, 0.24]

const Z315 = [
  [0.85, 0.5, 0.1, -0.05, -0.1, -0.33, 0.15, 0.55, 0.97],
  [0.5, 0.35, 0.1, -0.05, -0.1, 0.0, 0.2, 0.4, 0.7],
  [0.6, 0.35, 0.05, -0.1, -0.15, -0.05, 0.2, 0.3, 0.35],
  [0.7, 0.4, 0.05, -0.1, -0.12, 0.0, 0.2, 0.3, 0.3],
  [0.4, 0.3, 0.05, -0.05, -0.1, 0.0, 0.25, 0.3, 0.3],
  [0.55, 0.35, 0.0, -0.1, -0.2, -0.1, 0.15, 0.25, 0.3],
  [0.75, 0.45, 0.05, -0.1, -0.15, -0.05, 0.2, 0.3, 0.35],
  [0.3, 0.25, 0.0, -0.3, -0.45, -0.15, 0.15, 0.25, 0.3],
  [0.65, 0.4, 0.05, -0.1, -0.18, -0.05, 0.2, 0.3, 0.4],
  [0.95, 0.5, 0.05, -0.15, 0.35, 0.3, 0.3, 0.3, 0.3],
  [1.05, 0.55, 0.05, -0.15, -0.2, -0.05, 0.2, 0.4, 0.55],
  [0.8, 0.45, 0.05, -0.1, -0.1, 0.05, 0.25, 0.35, 0.45],
  [0.9, 0.5, 0.05, -0.05, -0.2, 0.0, 0.25, 0.3, 0.3],
  [0.55, 0.35, 0.0, -0.15, -0.15, -0.05, 0.2, 0.25, 0.2],
  [1.0, 0.5, 0.05, -0.12, -0.1, 0.05, 0.22, 0.28, 0.3],
]
const Z315_MEAN = [0.46, 0.55, 0.53, 0.25, -0.01, -0.15, -0.12, 0.03, -0.07, -0.17, -0.08, 0.1, 0.27, 0.35, 0.39, 0.34, 0.21]

const GREY = [
  [X0, X45, X90, X135, X180, X225, X270, X315],
  [Y0, Y45, Y90, Y135, Y180, Y225, Y270, Y315],
  [Z0, Z45, Z90, Z135, Z180, Z225, Z270, Z315],
]
const MEAN = [
  [X0_MEAN, X45_MEAN, X90_MEAN, X135_MEAN, X180_MEAN, X225_MEAN, X270_MEAN, X315_MEAN],
  [Y0_MEAN, Y45_MEAN, Y90_MEAN, Y135_MEAN, Y180_MEAN, Y225_MEAN, Y270_MEAN, Y315_MEAN],
  [Z0_MEAN, Z45_MEAN, Z90_MEAN, Z135_MEAN, Z180_MEAN, Z225_MEAN, Z270_MEAN, Z315_MEAN],
]

// layout
const COL_LEFT = [62, 514, 966]
const PANEL_W = 445
const PANEL_H = 135
const ROW_TOP = 22
const ROW_STEP = 141.7
const Y_AXIS_W = 55
const X_AXIS_H = 25
const LABEL_PAD = 8 // room below the panel so the "-1.0" label is not clipped
const FONT = "'Liberation Sans', Arial, sans-serif"
const GRID = "#EBEBEB"

function Panel({ col, row }: { col: number; row: number }) {
  const first = col === 0
  const last = row === ANGLES.length - 1
  const yw = first ? Y_AXIS_W : 0
  const xh = last ? X_AXIS_H : 0
  const pad = first && !last ? LABEL_PAD : 0
  const grey = GREY[col][row]
  const mean = MEAN[col][row]
  const data = X_MEAN.map((x, i) => {
    const r: Record<string, number> = { x, mean: mean[i] }
    const gi = X_GREY.indexOf(x)
    if (gi >= 0) SUBJECTS.forEach((s, k) => (r[s] = grey[k][gi]))
    return r
  })
  const tick = { fontSize: 15, fill: "#4D4D4D", fontFamily: FONT }
  return (
    <div style={{ position: "absolute", left: COL_LEFT[col] - yw, top: ROW_TOP + row * ROW_STEP }}>
      <LineChart
        width={PANEL_W + yw}
        height={PANEL_H + xh + pad}
        data={data}
        margin={{ top: 0, right: 0, bottom: pad, left: 0 }}
      >
        <XAxis
          dataKey="x"
          type="number"
          domain={[-220, 220]}
          ticks={X_TICKS}
          interval={0}
          allowDataOverflow
          hide={!last}
          height={xh}
          axisLine={false}
          tickLine={false}
          tickSize={0}
          tickMargin={5}
          tick={tick}
        />
        <YAxis
          type="number"
          domain={[-1.057, 1.297]}
          ticks={Y_TICKS}
          interval={0}
          allowDataOverflow
          hide={!first}
          width={yw}
          axisLine={false}
          tickLine={false}
          tickSize={0}
          tickMargin={4}
          tick={tick}
          tickFormatter={(v: number) => v.toFixed(1)}
        />
        {X_MINOR.map((v) => (
          <ReferenceLine key={"xm" + v} x={v} stroke={GRID} strokeWidth={0.6} />
        ))}
        {Y_MINOR.map((v) => (
          <ReferenceLine key={"ym" + v} y={v} stroke={GRID} strokeWidth={0.6} />
        ))}
        {X_TICKS.map((v) => (
          <ReferenceLine key={"x" + v} x={v} stroke={GRID} strokeWidth={1.2} />
        ))}
        {Y_TICKS.map((v) => (
          <ReferenceLine key={"y" + v} y={v} stroke={GRID} strokeWidth={1.2} />
        ))}
        {SUBJECTS.map((s, k) => (
          <Line
            key={s}
            dataKey={s}
            type="natural"
            stroke={SUBJECT_COLORS[k]}
            strokeWidth={1.4}
            dot={false}
            connectNulls
            isAnimationActive={false}
          />
        ))}
        <Line dataKey="mean" type="natural" stroke="#0000FF" strokeWidth={2} dot={false} isAnimationActive={false} />
      </LineChart>
    </div>
  )
}

export default function App() {
  return (
    <div
      style={{
        position: "absolute",
        left: 0,
        top: 0,
        width: 1496,
        height: 1194,
        background: "#FFFFFF",
        fontFamily: FONT,
        overflow: "hidden",
      }}
    >
      {AXES.map((a, c) => (
        <div
          key={a}
          style={{
            position: "absolute",
            left: COL_LEFT[c],
            width: PANEL_W,
            top: 0,
            height: 22,
            lineHeight: "20px",
            textAlign: "center",
            fontSize: 20,
            color: "#1A1A1A",
          }}
        >
          {a}
        </div>
      ))}
      {ANGLES.map((ang, r) => (
        <div
          key={ang}
          style={{
            position: "absolute",
            left: 1423,
            top: ROW_TOP + r * ROW_STEP + PANEL_H / 2,
            transform: "translate(-50%, -50%) rotate(90deg)",
            fontSize: 20,
            lineHeight: "22px",
            color: "#1A1A1A",
            whiteSpace: "nowrap",
          }}
        >
          {ang}
        </div>
      ))}
      {AXES.map((_, c) => ANGLES.map((__, r) => <Panel key={c + "-" + r} col={c} row={r} />))}
      <div
        style={{
          position: "absolute",
          left: 12,
          top: 582,
          transform: "translate(-50%, -50%) rotate(-90deg)",
          fontSize: 15,
          color: "#000",
          whiteSpace: "nowrap",
        }}
      >
        °/s<sup style={{ fontSize: 11 }}>2</sup>
      </div>
      <div
        style={{
          position: "absolute",
          left: COL_LEFT[0],
          width: COL_LEFT[2] + PANEL_W - COL_LEFT[0],
          top: 1175,
          textAlign: "center",
          fontSize: 15,
          fontStyle: "italic",
          color: "#000",
        }}
      >
        samples
      </div>
      <div style={{ position: "absolute", left: 1454, top: 438, fontSize: 11.5, color: "#000" }}>Subject</div>
      {SUBJECTS.map((s, k) => (
        <div key={s} style={{ position: "absolute", left: 1456, top: 466 + k * 18.14 - 7, height: 14, display: "flex", alignItems: "center" }}>
          <svg width={15} height={14} style={{ display: "block" }}>
            <line x1={0} y1={7} x2={15} y2={7} stroke={SUBJECT_COLORS[k]} strokeWidth={1.6} />
          </svg>
          <span style={{ marginLeft: 8, fontSize: 9.5, color: "#000" }}>{s}</span>
        </div>
      ))}
    </div>
  )
}
